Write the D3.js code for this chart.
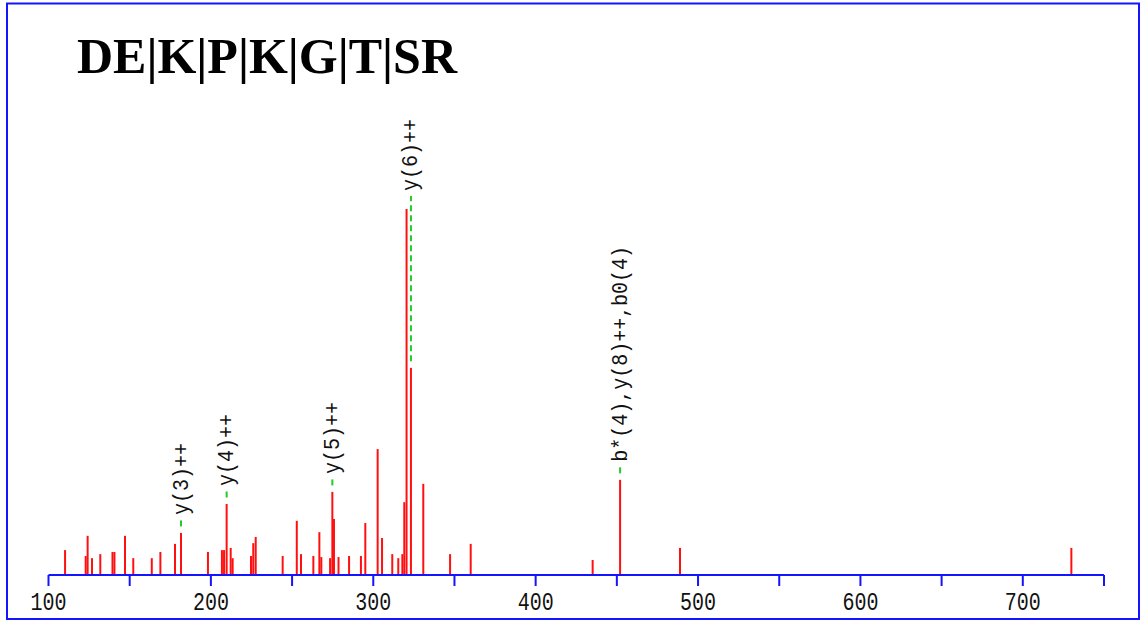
<!DOCTYPE html>
<html>
<head>
<meta charset="utf-8">
<script src="https://cdn.jsdelivr.net/npm/d3@7"></script>
<style>
  html, body { margin: 0; padding: 0; background: #fff; }
  svg { display: block; }
</style>
</head>
<body>
<svg id="chart" width="1142" height="621"></svg>
<script>
// Peptide fragmentation spectrum: DE|K|P|K|G|T|SR
const peptideTitle = "DE|K|P|K|G|T|SR";

// Peak m/z positions and relative intensities (%)
const peakMz = [
  110.2, 122.9, 124.1, 126.8, 131.9, 139.4, 140.6, 147.1, 152.2, 163.6,
  168.9, 177.9, 181.6, 198.2, 206.8, 208.1, 209.7, 212.2, 213.4, 224.7,
  226.1, 227.6, 244.2, 252.9, 255.5, 263.1, 266.8, 268.0, 273.4, 274.8,
  275.8, 278.6, 285.1, 292.4, 295.1, 302.7, 305.4, 311.7, 315.4, 317.9,
  319.1, 320.5, 323.2, 330.8, 347.3, 360.0, 435.1, 452.0, 488.9, 729.9
];
const peakIntensity = [
  6.8, 5.2, 10.7, 4.6, 5.7, 6.3, 6.3, 10.7, 4.6, 4.6,
  6.3, 8.5, 11.5, 6.3, 6.8, 6.8, 19.4, 7.4, 4.6, 5.2,
  8.7, 10.4, 5.2, 14.8, 5.7, 5.2, 11.7, 4.9, 4.6, 22.7,
  15.3, 4.9, 5.2, 5.2, 14.2, 34.4, 10.1, 5.7, 4.6, 5.7,
  19.9, 100, 56.6, 24.9, 5.7, 8.5, 4.1, 26.0, 7.4, 7.4
];

// Annotated fragment ions
const ionMz = [181.6, 209.7, 274.8, 323.2, 452.0];
const ionLabels = ["y(3)++", "y(4)++", "y(5)++", "y(6)++", "b*(4),y(8)++,b0(4)"];

// Axis ticks
const majorTicks = [100, 200, 300, 400, 500, 600, 700];
const minorTicks = [150, 250, 350, 450, 550, 650, 750];
const mzDomain = [100, 750];

const svg = d3.select("#chart");
const W = 1142, H = 621;
const blue = "#1414ff";
const labelFont = "'Liberation Mono', 'DejaVu Sans Mono', monospace";

const x = d3.scaleLinear().domain(mzDomain).range([48.5, 1104]);
const y = d3.scaleLinear().domain([0, 100]).range([575, 209]);

// Frame
svg.append("rect")
  .attr("x", 7).attr("y", 3.5)
  .attr("width", 1132).attr("height", 615.5)
  .attr("fill", "none")
  .attr("stroke", blue)
  .attr("stroke-width", 2);

// Title
svg.append("text")
  .attr("x", 77).attr("y", 73)
  .attr("font-family", "'Liberation Serif', 'Times New Roman', serif")
  .attr("font-weight", "bold")
  .attr("font-size", 50)
  .attr("fill", "#000")
  .text(peptideTitle);

// Peaks
const peaks = peakMz.map((m, i) => ({ mz: m, inten: peakIntensity[i] }));
svg.append("g").selectAll("line")
  .data(peaks)
  .join("line")
  .attr("x1", d => x(d.mz)).attr("x2", d => x(d.mz))
  .attr("y1", y(0)).attr("y2", d => y(d.inten))
  .attr("stroke", "#ff1010")
  .attr("stroke-width", 2);

// Axis: baseline, ticks and labels
const axisG = svg.append("g");
axisG.append("line")
  .attr("x1", x(mzDomain[0])).attr("x2", x(mzDomain[1]))
  .attr("y1", y(0)).attr("y2", y(0))
  .attr("stroke", blue).attr("stroke-width", 2);

axisG.selectAll("line.tick")
  .data(majorTicks.concat(minorTicks))
  .join("line")
  .attr("class", "tick")
  .attr("x1", d => x(d)).attr("x2", d => x(d))
  .attr("y1", y(0)).attr("y2", y(0) + 11)
  .attr("stroke", blue).attr("stroke-width", 2);

axisG.selectAll("text")
  .data(majorTicks)
  .join("text")
  .attr("transform", d => `translate(${x(d)},${610}) scale(1,1.25)`)
  .attr("text-anchor", "middle")
  .attr("font-family", labelFont)
  .attr("font-size", 20)
  .attr("fill", "#111")
  .text(d => d);

// Ion annotations: label above the highest nearby peak, green dashed leader down to the ion
const ions = ionMz.map((m, i) => {
  const ion = peaks.find(p => p.mz === m);
  const nearbyMax = d3.max(peaks.filter(p => Math.abs(p.mz - m) <= 5), p => p.inten);
  return { mz: m, text: ionLabels[i], top: y(ion.inten), labelBottom: y(nearbyMax) - 18 };
});

const annG = svg.append("g");
annG.selectAll("line")
  .data(ions)
  .join("line")
  .attr("x1", d => x(d.mz)).attr("x2", d => x(d.mz))
  .attr("y1", d => d.top - 6.5)
  .attr("y2", d => d.labelBottom + 5)
  .attr("stroke", "#22cc22")
  .attr("stroke-width", 2)
  .attr("stroke-dasharray", "6,4");

annG.selectAll("text")
  .data(ions)
  .join("text")
  .attr("transform", d => `translate(${x(d.mz) + 6.5},${d.labelBottom}) rotate(-90) scale(1,1.1)`)
  .attr("text-anchor", "start")
  .attr("font-family", labelFont)
  .attr("font-size", 20)
  .attr("fill", "#111")
  .text(d => d.text);
</script>
</body>
</html>
